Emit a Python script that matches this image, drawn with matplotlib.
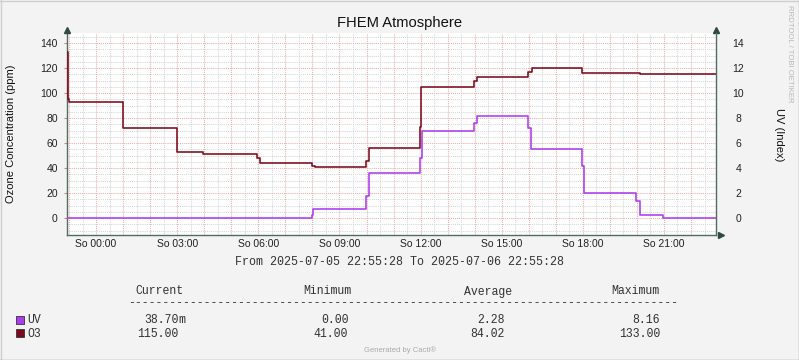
import matplotlib
matplotlib.use('Agg')
import matplotlib.pyplot as plt
import matplotlib.dates as mdates
from matplotlib.ticker import MultipleLocator
from matplotlib.patches import Rectangle
from matplotlib.lines import Line2D
import pandas as pd

# data (RRD graph, last 24h)
start = pd.Timestamp('2025-07-05 22:55:28')
end = pd.Timestamp('2025-07-06 22:55:28')

o3_times = ['2025-07-05 22:55:28', '2025-07-05 22:57', '2025-07-05 23:01',
            '2025-07-06 00:59', '2025-07-06 02:59', '2025-07-06 03:58',
            '2025-07-06 05:58', '2025-07-06 06:03', '2025-07-06 07:58',
            '2025-07-06 08:05', '2025-07-06 09:59', '2025-07-06 10:05',
            '2025-07-06 11:59', '2025-07-06 12:02', '2025-07-06 13:58',
            '2025-07-06 14:06', '2025-07-06 15:59', '2025-07-06 16:07',
            '2025-07-06 17:59', '2025-07-06 20:07', '2025-07-06 22:55:28']
o3_values = [133, 95, 93, 72, 53, 51, 48, 44, 42, 41, 46, 56, 73, 105,
             110, 113, 117, 120, 116, 115, 115]

uv_times = ['2025-07-05 22:55:28', '2025-07-06 07:58', '2025-07-06 08:02',
            '2025-07-06 09:59', '2025-07-06 10:05', '2025-07-06 11:59',
            '2025-07-06 12:03', '2025-07-06 13:58', '2025-07-06 14:05',
            '2025-07-06 15:59', '2025-07-06 16:05', '2025-07-06 17:59',
            '2025-07-06 18:03', '2025-07-06 19:58', '2025-07-06 20:06',
            '2025-07-06 20:58', '2025-07-06 22:55:28']
uv_values = [0.0, 0.25, 0.7, 1.8, 3.6, 4.8, 7.0, 7.6, 8.16, 7.2, 5.5,
             4.2, 2.0, 1.4, 0.24, 0.0387, 0.0387]

legend_names = ['UV', 'O3']
legend_colors = ['#AC3CF0', '#7D0A1C']
stat_headers = ['Current', 'Minimum', 'Average', 'Maximum']
uv_stats = [0.0387, 0.00, 2.28, 8.16]
o3_stats = [115.00, 41.00, 84.02, 133.00]

W, H = 799, 360
AXIS_COL = '#4E6E64'
MAJOR_COL = '#EBAEAE'
MINOR_COL = '#D6D6D6'
TXT_COL = '#333333'
SANS = 'Liberation Sans'
MONO = 'Liberation Mono'


def fx(x):
    return x / W


def fy(y):
    return 1 - y / H


def fmt(v):
    # rrdtool style %8.2lf%s
    if v != 0 and abs(v) < 1:
        return '%.2f' % (v * 1000), 'm'
    return '%.2f' % v, ''


fig = plt.figure(figsize=(W / 100, H / 100), dpi=100, facecolor='#F3F3F3')
ax = fig.add_axes([fx(67), fy(235), fx(716 - 67), (235 - 33) / H])
ax.set_facecolor('white')

ot = pd.to_datetime(o3_times, format='mixed')
ut = pd.to_datetime(uv_times, format='mixed')
ax.step(ot, o3_values, where='post', color=legend_colors[1], lw=1.15, zorder=4)

ax2 = ax.twinx()
ax2.step(ut, uv_values, where='post', color=legend_colors[0], lw=1.15, zorder=3)

ax.set_xlim(start, end)
ax.set_ylim(-13.6, 148)
ax2.set_ylim(-1.36, 14.8)

# grids: minor 30 min / 5 ppm grey, major 1 h / 20 ppm red
ax.set_axisbelow(True)
ax.yaxis.set_major_locator(MultipleLocator(20))
ax.yaxis.set_minor_locator(MultipleLocator(5))
ax.xaxis.set_major_locator(mdates.HourLocator(byhour=range(0, 24, 3)))
ax.xaxis.set_major_formatter(mdates.DateFormatter('So %H:%M'))
ax.xaxis.set_minor_locator(mdates.MinuteLocator(byminute=[30]))
ax.xaxis.remove_overlapping_locs = False
dots = (0, (1, 1))
ax.grid(which='minor', axis='both', color=MINOR_COL, ls=dots, lw=0.75)
ax.grid(which='major', axis='y', color=MAJOR_COL, ls=dots, lw=0.75)
red_x = mdates.HourLocator(interval=1).tick_values(start, end)
ax.vlines(red_x, 0, 1, transform=ax.get_xaxis_transform(), colors=MAJOR_COL,
          linestyles=dots, lw=0.75, zorder=0.6)

ax2.yaxis.set_major_locator(MultipleLocator(2))

ax.tick_params(axis='x', which='both', length=0, pad=2.8, labelsize=7.5,
               labelcolor='#222222')
ax.tick_params(axis='y', which='major', length=2, width=0.8, color='#E08080',
               pad=4.6, labelsize=7.5, labelcolor='#222222')
ax.tick_params(axis='y', which='minor', length=0)
ax2.tick_params(axis='y', which='both', length=0, pad=16.2, labelsize=7.5,
                labelcolor='#222222')
for lab in ax.get_xticklabels() + ax.get_yticklabels() + ax2.get_yticklabels():
    lab.set_fontfamily(SANS)
for lab in ax2.get_yticklabels():
    lab.set_ha('center')

for a in (ax, ax2):
    for s in a.spines.values():
        s.set_visible(False)
ax.spines['left'].set_visible(True)
ax.spines['bottom'].set_visible(True)
ax2.spines['right'].set_visible(True)
for s in (ax.spines['left'], ax.spines['bottom'], ax2.spines['right']):
    s.set_color(AXIS_COL)
    s.set_linewidth(1.0)

# axis arrows
ax.plot([0, 1], [1.015, 1.015], ls='none', marker='^', ms=4, color='#2F4A42',
        transform=ax.transAxes, clip_on=False, zorder=6)
ax.plot([1.008], [0], ls='none', marker='>', ms=4, color='#2F4A42',
        transform=ax.transAxes, clip_on=False, zorder=6)

# texts
fig.text(0.5, fy(27.5), 'FHEM Atmosphere', ha='center', va='baseline',
         fontsize=10.6, family=SANS, color='#111111')
fig.text(fx(11), fy(134), 'Ozone Concentration (ppm)', rotation=90,
         ha='center', va='center', fontsize=8, family=SANS, color='#111111')
fig.text(fx(779), fy(135), 'UV (Index)', rotation=270,
         ha='center', va='center', fontsize=8, family=SANS, color='#111111')
fig.text(fx(789), fy(5), 'RRDTOOL / TOBI OETIKER', rotation=270,
         ha='center', va='top', fontsize=5.6, family=SANS, color='#B8B8B8')
fig.text(0.5, fy(265.3),
         'From %s To %s' % (start.strftime('%Y-%m-%d %H:%M:%S'),
                            end.strftime('%Y-%m-%d %H:%M:%S')),
         ha='center', va='baseline', fontsize=8.4, family=MONO, color=TXT_COL)

# legend table
hdr_cx = [159, 327, 488, 635]
col_end = [178.3, 348.3, 504.3, 660]
for h, cx in zip(stat_headers, hdr_cx):
    fig.text(fx(cx), fy(294.5), h, ha='center', va='baseline', fontsize=8.3,
             family=MONO, color=TXT_COL)
fig.text(fx(128), fy(306), '-' * 80, ha='left', va='baseline', fontsize=8.3,
         family=MONO, color=TXT_COL)

rows = [(legend_names[0], legend_colors[0], uv_stats, 323.3, 315.5),
        (legend_names[1], legend_colors[1], o3_stats, 336.7, 329.3)]
for name, col, stats, base, sq_top in rows:
    fig.add_artist(Rectangle((fx(15.5), fy(sq_top + 8)), fx(8), 8 / H,
                             transform=fig.transFigure, facecolor=col,
                             edgecolor='#333333', lw=0.6))
    fig.text(fx(27.7), fy(base), name, ha='left', va='baseline', fontsize=8.3,
             family=MONO, color=TXT_COL)
    for v, xe in zip(stats, col_end):
        num, unit = fmt(v)
        fig.text(fx(xe), fy(base), num, ha='right', va='baseline',
                 fontsize=8.3, family=MONO, color=TXT_COL)
        if unit:
            fig.text(fx(xe), fy(base), unit, ha='left', va='baseline',
                     fontsize=8.3, family=MONO, color=TXT_COL)

fig.text(0.5, fy(350), 'Generated by Cacti®', ha='center', va='center',
         fontsize=5.5, family=SANS, color='#AAAAAA')

# image frame
fig.add_artist(Line2D([0, 1], [fy(0.5), fy(0.5)], transform=fig.transFigure,
                      color='#CFCFCF', lw=1))
fig.add_artist(Line2D([fx(0.5), fx(0.5)], [0, 1], transform=fig.transFigure,
                      color='#CFCFCF', lw=1))
fig.add_artist(Line2D([0, 1], [fy(359.5), fy(359.5)], transform=fig.transFigure,
                      color='#9A9A9A', lw=1))
fig.add_artist(Line2D([fx(798.5), fx(798.5)], [0, 1], transform=fig.transFigure,
                      color='#9A9A9A', lw=1))

fig.savefig('out.png', dpi=100, facecolor=fig.get_facecolor())
